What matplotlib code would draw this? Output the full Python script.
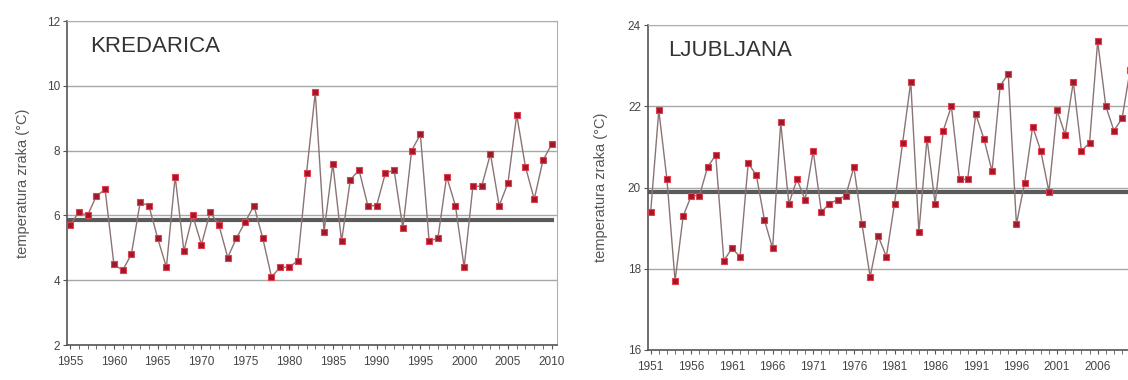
import numpy as np
import matplotlib.pyplot as plt

plt.rcParams['font.family'] = ['Liberation Sans', 'DejaVu Sans']

# Kredarica, 1955-2010
kre_years = list(range(1955, 2011))
kre_temp = [5.7, 6.1, 6.0, 6.6, 6.8, 4.5, 4.3, 4.8, 6.4, 6.3,
            5.3, 4.4, 7.2, 4.9, 6.0, 5.1, 6.1, 5.7, 4.7, 5.3,
            5.8, 6.3, 5.3, 4.1, 4.4, 4.4, 4.6, 7.3, 9.8, 5.5,
            7.6, 5.2, 7.1, 7.4, 6.3, 6.3, 7.3, 7.4, 5.6, 8.0,
            8.5, 5.2, 5.3, 7.2, 6.3, 4.4, 6.9, 6.9, 7.9, 6.3,
            7.0, 9.1, 7.5, 6.5, 7.7, 8.2]
kre_mean = 5.85

# Ljubljana, 1951-2010
lj_years = list(range(1951, 2011))
lj_temp = [19.4, 21.9, 20.2, 17.7, 19.3, 19.8, 19.8, 20.5, 20.8, 18.2,
           18.5, 18.3, 20.6, 20.3, 19.2, 18.5, 21.6, 19.6, 20.2, 19.7,
           20.9, 19.4, 19.6, 19.7, 19.8, 20.5, 19.1, 17.8, 18.8, 18.3,
           19.6, 21.1, 22.6, 18.9, 21.2, 19.6, 21.4, 22.0, 20.2, 20.2,
           21.8, 21.2, 20.4, 22.5, 22.8, 19.1, 20.1, 21.5, 20.9, 19.9,
           21.9, 21.3, 22.6, 20.9, 21.1, 23.6, 22.0, 21.4, 21.7, 22.9]
lj_mean = 19.9

fig = plt.figure(figsize=(11.28, 3.8), dpi=100)
W, H = 1128.0, 380.0


def panel(rect, years, temp, mean, ylim, xlim, xlabels, title, title_xy, lpad):
    ax = fig.add_axes(rect)
    ax.set_xlim(*xlim)
    ax.set_ylim(*ylim)
    ax.yaxis.set_major_locator(plt.MultipleLocator(2))
    ax.grid(axis='y', color='#a8a8a8', linewidth=1.0)
    ax.set_axisbelow(True)
    ax.plot([xlim[0], years[-1]], [mean, mean], color='#5a5a5a', linewidth=3, zorder=2)
    ax.plot(years, temp, color='#8a7474', linewidth=1.0, zorder=3,
            marker='s', markersize=5, markerfacecolor='#a01828',
            markeredgecolor='#e04050', markeredgewidth=0.8)
    ax.set_xticks(xlabels)
    ax.set_xticks(years, minor=True)
    ax.tick_params(axis='x', which='both', direction='out', length=3,
                   color='#555555', labelsize=8.5, labelcolor='#444444', pad=5)
    ax.tick_params(axis='y', direction='out', length=3, color='#555555',
                   labelsize=8.5, labelcolor='#444444', pad=2)
    for s in ['top', 'right']:
        ax.spines[s].set_color('#b0b0b0')
    for s in ['left', 'bottom']:
        ax.spines[s].set_color('#555555')
        ax.spines[s].set_linewidth(1.2)
    ax.set_ylabel('temperatura zraka (°C)', fontsize=10.5, color='#555555', labelpad=lpad)
    ax.text(title_xy[0], title_xy[1], title, transform=ax.transAxes,
            fontsize=16, color='#333333', va='center')
    return ax


# left panel: px 67-557 x, 21-345 y
panel([67 / W, 1 - 345 / H, (557 - 67) / W, (345 - 21) / H],
      kre_years, kre_temp, kre_mean, (2, 12), (1954.65, 2010.6),
      list(range(1955, 2011, 5)), 'KREDARICA', (0.047, 0.92), 12)

# right panel: px 648-1141 x, 25-350 y (cut off at figure edge)
panel([648 / W, 1 - 350 / H, (1141 - 648) / W, (350 - 25) / H],
      lj_years, lj_temp, lj_mean, (16, 24), (1950.67, 2011.33),
      list(range(1951, 2007, 5)), 'LJUBLJANA', (0.04, 0.92), 14)

fig.savefig('out.png', dpi=100)
